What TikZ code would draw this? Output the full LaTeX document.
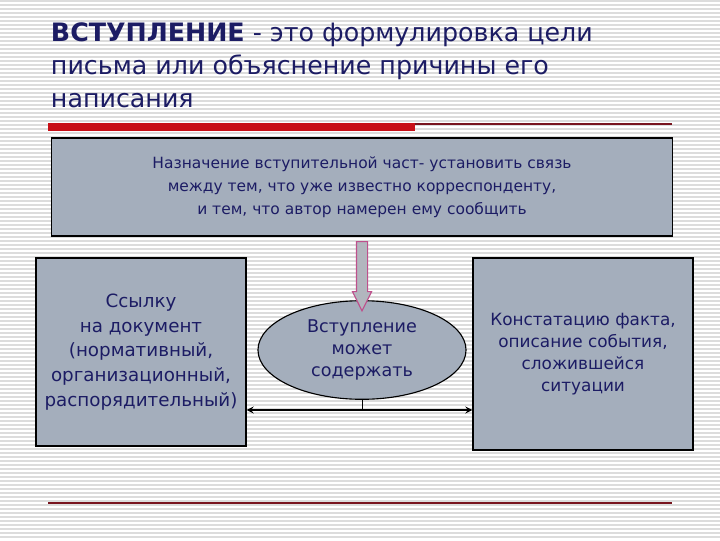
\documentclass[tikz,border=0pt]{standalone}
\usepackage{fontspec}
\setmainfont{DejaVu Sans}
\usepackage{tikz}
\usetikzlibrary{shapes,arrows,positioning}

\definecolor{boxgray}{RGB}{164,174,188}
\definecolor{inknavy}{RGB}{28,28,100}
\definecolor{barred}{RGB}{200,16,24}
\definecolor{linered}{RGB}{120,20,30}
\definecolor{stripe}{RGB}{220,220,220}
\definecolor{arrowpink}{RGB}{190,80,140}
\definecolor{arrowgray}{RGB}{178,182,190}

\begin{document}
\begin{tikzpicture}[x=0.025cm, y=-0.025cm]
\tikzstyle{block} = [rectangle, draw=black, thick, fill=boxgray, text=inknavy, align=center]
\tikzstyle{oval} = [ellipse, draw=black, thick, fill=boxgray, text=inknavy, align=center]
\tikzstyle{arrow} = [line width=1.2pt,->,>=stealth]

% background
\useasboundingbox (0,0) rectangle (720,540);
\fill[white] (0,0) rectangle (720,540);
\foreach \y in {1,5,...,540}
  \draw[stripe, line width=0.9pt] (0,\y) -- (720,\y);

% title
\node[anchor=north west, text=inknavy, align=left, font=\fontsize{18}{23.5}\selectfont] (title) at (46,18)
  {\textbf{ВСТУПЛЕНИЕ} - это формулировка цели\\письма или объяснение причины его\\написания};
\fill[barred] (48,123) rectangle (415,131);
\draw[linered, line width=0.8pt] (415,124) -- (672,124);
\draw[linered, line width=0.8pt] (48,503) -- (672,503);

% boxes
\node[block, minimum width=15.5cm, minimum height=2.45cm, font=\fontsize{11}{16.3}\selectfont] (purpose) at (362,187)
  {Назначение вступительной част- установить связь\\между тем, что уже известно корреспонденту,\\и тем, что автор намерен ему сообщить};
\node[block, minimum width=5.25cm, minimum height=4.7cm, font=\fontsize{13}{17.7}\selectfont] (reference) at (141,352)
  {Ссылку\\на документ\\(нормативный,\\организационный,\\распорядительный)};
\node[oval, minimum width=5.2cm, minimum height=1.95cm, font=\fontsize{12.5}{15.6}\selectfont] (intro) at (362,350)
  {Вступление\\может\\содержать};
\node[block, minimum width=5.5cm, minimum height=4.8cm, font=\fontsize{12}{15.6}\selectfont] (fact) at (583,354)
  {Констатацию факта,\\описание события,\\сложившейся\\ситуации};

% connectors
\node[single arrow, draw=arrowpink, fill=arrowgray, thick, rotate=-90, anchor=tail, minimum height=1.73cm,
  inner xsep=0pt, inner ysep=0.125cm, single arrow head extend=0.1cm, single arrow tip angle=53] (down) at (362,241) {};
\coordinate (split) at (362,410);
\draw[thin] (intro.south) -- (split);
\draw[arrow] (split) -- (reference.east |- split);
\draw[arrow] (split) -- (fact.west |- split);
\end{tikzpicture}
\end{document}
